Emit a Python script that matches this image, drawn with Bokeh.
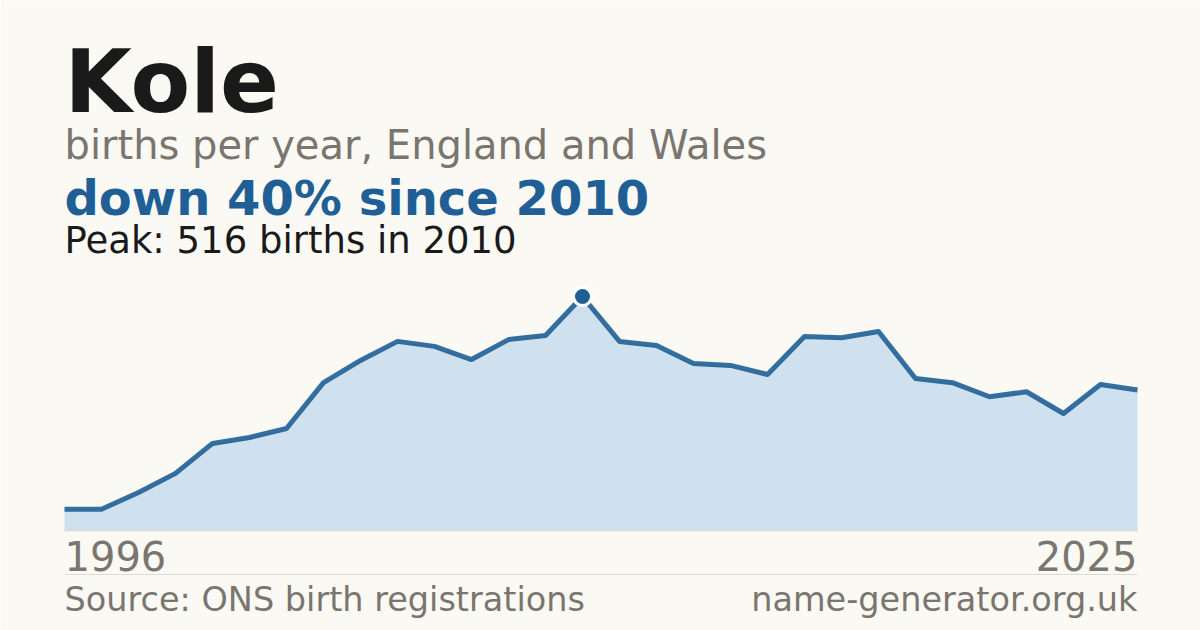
from bokeh.plotting import figure
from bokeh.models import ColumnDataSource, Range1d
from bokeh.embed import file_html
from bokeh.resources import INLINE
from bokeh.core.properties import value

# ---- data ----
years = list(range(1996, 2026))
births = [47, 47, 84, 126, 192, 205, 225, 326, 375, 417, 406, 377, 421, 430, 516,
          417, 408, 368, 364, 344, 428, 425, 439, 335, 326, 295, 306, 258, 322, 310]
name = "Kole"
subtitle = "births per year, England and Wales"
source_text = "Source: ONS birth registrations"
site_text = "name-generator.org.uk"

peak_i = births.index(max(births))
peak_year = years[peak_i]
peak_val = births[peak_i]
change = round((births[-1] - peak_val) / peak_val * 100)
headline = f"down {abs(change)}% since {peak_year}" if change < 0 else f"up {change}% since {peak_year}"
peak_text = f"Peak: {peak_val} births in {peak_year}"

# ---- layout constants (figure pixels) ----
W, H = 1200, 630
X0, X1 = 64, 1137          # pixel of first / last year
Y_BASE, Y_PEAK = 530, 296  # pixel of zero / peak value

px_per_year = (X1 - X0) / (years[-1] - years[0])
px_per_unit = (Y_BASE - Y_PEAK) / peak_val

def dx(px):
    return years[0] + (px - X0) / px_per_year

def dy(py):
    return (Y_BASE - py) / px_per_unit

BG = "#faf9f4"
BLUE = "#1f5f96"
GRAY = "#7a756e"
FONT = value("DejaVu Sans")

p = figure(width=W, height=H, output_backend="svg", toolbar_location=None,
           x_range=Range1d(dx(0), dx(W)), y_range=Range1d(dy(H), dy(0)),
           min_border=0, min_border_left=0, min_border_right=0,
           min_border_top=0, min_border_bottom=0)
p.axis.visible = False
p.grid.visible = False
p.outline_line_color = None
p.background_fill_color = BG
p.border_fill_color = BG

src = ColumnDataSource(dict(x=years, y=births))
p.varea(x="x", y1=0, y2="y", source=src, fill_color="#cfe0ef")
p.line(x="x", y="y", source=src, line_color=BLUE, line_width=5, line_alpha=0.9, line_join="round")

# baseline and separator
p.segment(x0=[years[0]], y0=[0], x1=[years[-1]], y1=[0], line_color="#dcdad5", line_width=1.5)
p.segment(x0=[years[0]], y0=[dy(574)], x1=[years[-1]], y1=[dy(574)], line_color="#dcdad5", line_width=1)

# peak marker
p.scatter(x=[peak_year], y=[peak_val], size=18, fill_color=BLUE, line_color="white", line_width=3)

def put(txt, px_x, base_y, size, color, bold=False, align="left"):
    # place alphabetic baseline at base_y (pixels); compensates renderer's baseline shift
    y = dy(base_y - 0.365 * size)
    p.text(x=[dx(px_x)], y=[y], text=[txt], text_font=FONT, text_font_size=f"{size}px",
           text_font_style="bold" if bold else "normal", text_color=color,
           text_baseline="alphabetic", text_align=align)

put(name, X0, 113, 87, "#1a1a1a", bold=True)
put(subtitle, X0, 159, 40, GRAY)
put(headline, X0, 215, 48, BLUE, bold=True)
put(peak_text, X0, 254, 37, "#1a1a1a")
put(str(years[0]), X0, 570, 40, GRAY)
put(str(years[-1]), X1, 570, 40, GRAY, align="right")
put(source_text, X0, 611, 33.5, GRAY)
put(site_text, X1, 611, 33.5, GRAY, align="right")

html = file_html(p, INLINE)
html = html.replace("<body>", f"<body style=\"background:{BG}\">", 1)
open("out.html", "w").write(html)
